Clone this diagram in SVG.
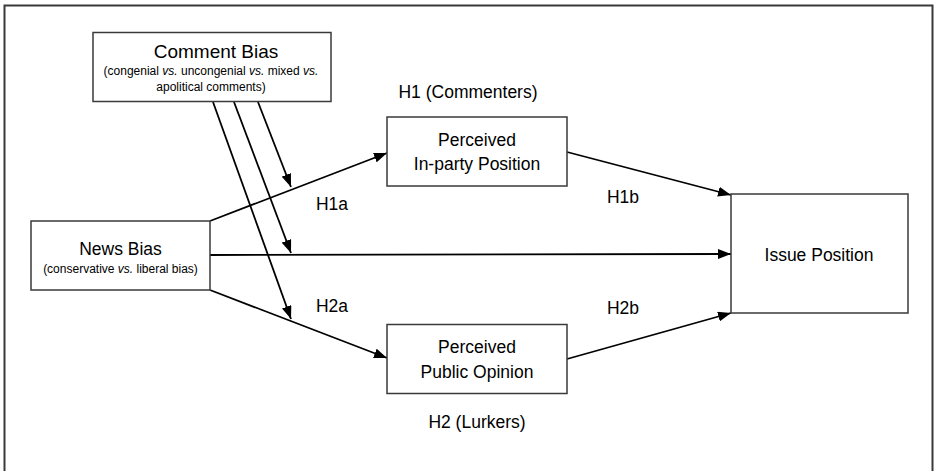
<svg xmlns="http://www.w3.org/2000/svg" width="934" height="471" viewBox="0 0 934 471">
<defs>
<style>
.box{fill:#fff;stroke:#3a3a3a;stroke-width:1.5}
.t{font-family:"Liberation Sans",Arial,sans-serif;fill:#000;text-anchor:middle}
.big{font-size:17.5px}
.sm{font-size:12px}
.lbl{font-family:"Liberation Sans",Arial,sans-serif;font-size:17.5px;fill:#000;text-anchor:middle}
.c{stroke:#000;stroke-width:1.8;fill:none;marker-end:url(#ah)}
</style>
<marker id="ah" markerUnits="userSpaceOnUse" markerWidth="14" markerHeight="10" refX="13" refY="5" orient="auto">
<path d="M0,0 L13,5 L0,10 Z" fill="#000"/>
</marker>
</defs>
<rect width="934" height="471" fill="#fff"/>
<path d="M4.5,475 V5.5 H932.5 V475" fill="none" stroke="#3a3a3a" stroke-width="2"/>

<g id="connectors">
<line class="c" x1="210" y1="221" x2="387" y2="153"/>
<line class="c" x1="210" y1="255" x2="731" y2="254"/>
<line class="c" x1="210" y1="290" x2="387" y2="358"/>
<line class="c" x1="567" y1="152" x2="731" y2="195"/>
<line class="c" x1="567" y1="359" x2="731" y2="313"/>
<line class="c" x1="213" y1="102" x2="291" y2="319"/>
<line class="c" x1="234" y1="102" x2="291" y2="253"/>
<line class="c" x1="258" y1="102" x2="291" y2="187"/>
</g>

<g id="comment-bias">
<rect class="box" x="93" y="32.5" width="238" height="69"/>
<text class="t" font-size="19" x="216" y="58">Comment Bias</text>
<text class="t sm" x="211" y="75">(congenial <tspan font-style="italic">vs.</tspan> uncongenial <tspan font-style="italic">vs.</tspan> mixed <tspan font-style="italic">vs.</tspan></text>
<text class="t sm" x="211" y="91">apolitical comments)</text>
</g>

<g id="news-bias">
<rect class="box" x="31" y="221" width="179" height="69"/>
<text class="t big" x="120.5" y="255">News Bias</text>
<text class="t sm" x="120.5" y="273">(conservative <tspan font-style="italic">vs.</tspan> liberal bias)</text>
</g>

<g id="inparty">
<rect class="box" x="387" y="117" width="180" height="69"/>
<text class="t big" x="477" y="146">Perceived</text>
<text class="t big" x="477" y="170">In-party Position</text>
</g>

<g id="public-opinion">
<rect class="box" x="387" y="324.5" width="180" height="69"/>
<text class="t big" x="477" y="353">Perceived</text>
<text class="t big" x="477" y="378">Public Opinion</text>
</g>

<g id="issue-position">
<rect class="box" x="731" y="194" width="177" height="119"/>
<text class="t big" x="819" y="261">Issue Position</text>
</g>

<g id="labels">
<text class="lbl" x="468" y="98">H1 (Commenters)</text>
<text class="lbl" x="332" y="210">H1a</text>
<text class="lbl" x="332" y="312">H2a</text>
<text class="lbl" x="623" y="203">H1b</text>
<text class="lbl" x="623" y="314">H2b</text>
<text class="lbl" x="477" y="428">H2 (Lurkers)</text>
</g>
</svg>
